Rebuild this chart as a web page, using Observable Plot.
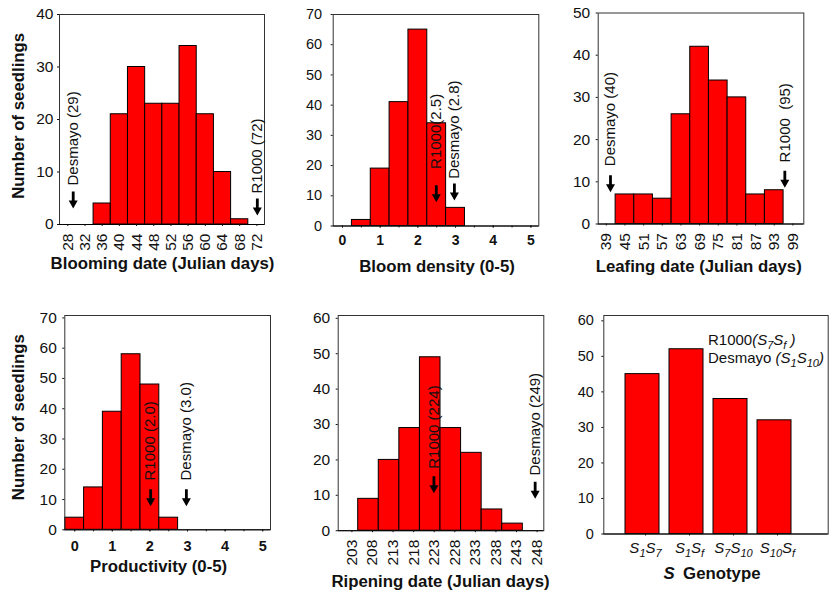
<!DOCTYPE html>
<html><head><meta charset="utf-8">
<script src="https://cdn.jsdelivr.net/npm/d3@7"></script>
<script src="https://cdn.jsdelivr.net/npm/@observablehq/plot@0.6"></script>
<style>
html,body{margin:0;padding:0;background:#fff;}
#chart{position:relative;width:832px;height:592px;overflow:hidden;background:#fff;}
#chart svg{position:absolute;left:0;top:0;}
</style></head><body><div id="chart"></div>
<script>
// ---------- data ----------
const bloomDays = [28,32,36,40,44,48,52,56,60,64,68,72];
const bloomCounts = [0,0,4,21,30,23,23,34,21,10,1,0];
const densityBins = [0.5,1,1.5,2,2.5,3];
const densityCounts = [2,19,41,65,34,6];
const scoreTicks = [0,1,2,3,4,5];
const halfTicks = [0,0.5,1,1.5,2,2.5,3,3.5,4,4.5,5];
const leafDays = [39,45,51,57,63,69,75,81,87,93,99];
const leafCounts = [0,7,7,6,26,42,34,30,7,8,0];
const prodBins = [0,0.5,1,1.5,2,2.5];
const prodCounts = [4,14,39,58,48,4];
const ripenDays = [203,208,213,218,223,228,233,238,243,248];
const ripenCounts = [0,9,20,29,49,29,22,6,2,0];
const genotypes = ["*S_1S_7*","*S_1S_f*","*S_7S_10*","*S_10S_f*"];
const genotypeCounts = [45,52,38,32];
const ticks40 = [0,10,20,30,40];
const ticks50 = [0,10,20,30,40,50];
const ticks60 = [0,10,20,30,40,50,60];
const ticks70 = [0,10,20,30,40,50,60,70];

// parent markers (label, value on x, text base level, arrow tip level)
const bloomNotes = [
  {label:"Desmayo (29)", x:29.26, yText:7.43, yTip:3.05},
  {label:"R1000 (72)", x:72.1, yText:5.9, yTip:1.71}];
const densityNotes = [
  {label:"R1000(2.5)", x:2.49, yText:18.9, yTip:7.9},
  {label:"Desmayo (2.8)", x:2.97, yText:15.6, yTip:8.4}];
const leafNotes = [
  {label:"Desmayo (40)", x:40.35, yText:13.7, yTip:7.5},
  {label:"R1000\u00a0 (95)", x:96.4, yText:14.6, yTip:8.6}];
const prodNotes = [
  {label:"R1000 (2.0)", x:2.02, yText:16.3, yTip:7.8},
  {label:"Desmayo (3.0)", x:2.97, yText:16.3, yTip:7.8}];
const ripenNotes = [
  {label:"R1000 (224)", x:223.9, yText:17.5, yTip:10.6},
  {label:"Desmayo (249)", x:248.5, yText:15.6, yTip:9.0}];
const genoNotes = [
  {label:"R1000*(S_7S_f )*", x:genotypes[1], y:54.6},
  {label:"Desmayo *(S_1S_10)*", x:genotypes[1], y:49.4}];

// ---------- layout ----------
const FONT = "'Liberation Sans', Arial, Helvetica, sans-serif";
const W = 832, H = 592;
const chart = document.getElementById("chart");

function base(f){
  return {width:W, height:H, marginLeft:f.L, marginRight:W-f.R, marginTop:f.T, marginBottom:H-f.B,
    style:{background:"transparent", fontFamily:FONT, fontSize:"15px", color:"#111"}};
}

const arrowSymbol = {draw(ctx){
  const s=1.4, w=4.5, h=8, L=17;
  ctx.moveTo(-s,-L); ctx.lineTo(s,-L); ctx.lineTo(s,-h); ctx.lineTo(w,-h);
  ctx.lineTo(0,0); ctx.lineTo(-w,-h); ctx.lineTo(-s,-h); ctx.closePath();
}};

function histPanel(c){
  const rows = c.centers.map((v,i)=>({x1:v-c.bw/2, x2:v+c.bw/2, count:c.counts[i]}));
  const marks = [
    Plot.rect(rows, {x1:"x1", x2:"x2", y1:0, y2:"count", fill:"#ff0000", stroke:"#000", strokeWidth:1}),
    Plot.frame({stroke:"#333"}),
    Plot.ruleY([0], {stroke:"#000"}),
    Plot.axisY({ticks:c.yTicks, tickSize:2, tickPadding:c.yPad, fontSize:c.yFont, label:null}),
    Plot.axisX({ticks:c.xTicks, tickSize:2, tickPadding:c.xPad, tickRotate:c.rotate||0, tickFormat:d=>String(d),
      fontSize:c.xFont, fontWeight:c.xBold?"bold":"normal", label:null, dx:c.xDx||0}),
    Plot.text(c.notes, {x:"x", y:"yText", text:"label", rotate:-90, textAnchor:"start", fontSize:15}),
    Plot.dot(c.notes, {x:"x", y:"yTip", symbol:arrowSymbol, fill:"#000", stroke:"none"}),
    Plot.text([c.title], {text:d=>d, frameAnchor:"bottom", textAnchor:"middle", dx:c.tdx, dy:c.tdy, fontWeight:"bold", fontSize:16.8})
  ];
  if (c.minor) marks.push(Plot.axisX({ticks:c.minor, tickSize:2, tickFormat:()=>"", label:null}));
  if (c.yTitle) marks.push(Plot.text([c.yTitle], {text:d=>d, frameAnchor:"left", textAnchor:"middle", rotate:-90, dx:c.ydx, dy:c.ydy, fontWeight:"bold", fontSize:16.8}));
  return Plot.plot({...base(c.f), x:{domain:c.xDomain}, y:{domain:c.yDomain}, marks});
}

function rich(el, markup){
  const sel = d3.select(el); sel.text(null);
  const segs = []; let it=false, buf="", i=0;
  const push=(t,sb)=>{ if(t) segs.push({t, it, sb}); };
  while(i<markup.length){
    const ch = markup[i];
    if(ch==="*"){ push(buf,false); buf=""; it=!it; i++; }
    else if(ch==="_"){ push(buf,false); buf=""; i++; let s="";
      if(/\d/.test(markup[i])){ while(i<markup.length && /\d/.test(markup[i])) s+=markup[i++]; }
      else s=markup[i++];
      push(s,true); }
    else { buf+=ch; i++; }
  }
  push(buf,false);
  let shifted=false;
  for(const s of segs){
    const t = sel.append("tspan").text(s.t);
    if(s.it) t.attr("font-style","italic");
    if(s.sb){ t.attr("font-size","11px"); if(!shifted){ t.attr("dy",4); shifted=true; } }
    else if(shifted){ t.attr("dy",-4); shifted=false; }
  }
}

const p1 = histPanel({f:{L:59,R:264,T:14,B:224}, xDomain:[26.07,73.77], yDomain:[0,40],
  centers:bloomDays, counts:bloomCounts, bw:4, yTicks:ticks40, yPad:4, yFont:15.5,
  xTicks:bloomDays, xPad:7, rotate:-90, xFont:15.5, notes:bloomNotes,
  title:"Blooming date (Julian days)", tdx:0.5, tdy:44,
  yTitle:"Number of seedlings", ydx:-40.5, ydy:-3.7});
const p2 = histPanel({f:{L:332.7,R:538.3,T:14,B:225.5}, xDomain:[-0.247,5.21], yDomain:[0,70],
  centers:densityBins, counts:densityCounts, bw:0.5, yTicks:ticks70, yPad:9, yFont:14.5,
  xTicks:scoreTicks, xPad:7, xFont:14, xBold:true, notes:densityNotes, minor:halfTicks,
  title:"Bloom density (0-5)", tdx:1, tdy:46});
const p3 = histPanel({f:{L:597.7,R:803.3,T:12.5,B:223.5}, xDomain:[36.4,102.5], yDomain:[0,50],
  centers:leafDays, counts:leafCounts, bw:6, yTicks:ticks50, yPad:6, yFont:15.5,
  xTicks:leafDays, xPad:7, rotate:-90, xFont:15.5, notes:leafNotes,
  title:"Leafing date (Julian days)", tdx:-2.3, tdy:48});
const p4 = histPanel({f:{L:64.3,R:270,T:315,B:529.3}, xDomain:[-0.263,5.207], yDomain:[0,70.8],
  centers:prodBins, counts:prodCounts, bw:0.5, yTicks:ticks70, yPad:6, yFont:15.5,
  xTicks:scoreTicks, xPad:9, xFont:14.5, xBold:true, notes:prodNotes, minor:halfTicks,
  title:"Productivity (0-5)", tdx:-9, tdy:42.4,
  yTitle:"Number of seedlings", ydx:-45.8, ydy:-5.5});
const p5 = histPanel({f:{L:337.7,R:543.3,T:315,B:530.2}, xDomain:[200.64,250.6], yDomain:[0,60.8],
  centers:ripenDays, counts:ripenCounts, bw:5, yTicks:ticks60, yPad:6, yFont:15.5,
  xTicks:ripenDays, xPad:7, rotate:-90, xFont:15.5, xDx:4, notes:ripenNotes,
  title:"Ripening date (Julian days)", tdx:-0.5, tdy:56.5});

const genoRows = genotypes.map((g,i)=>({g, count:genotypeCounts[i]}));
const p6 = Plot.plot({...base({L:603.3,R:827.7,T:315,B:533.5}),
  x:{type:"band", domain:genotypes, range:[619.7,795.7], paddingInner:0.227, paddingOuter:0.1135},
  y:{domain:[0,61.5]},
  marks:[
    Plot.barY(genoRows, {x:"g", y:"count", fill:"#ff0000", stroke:"#000", strokeWidth:1}),
    Plot.frame({stroke:"#333"}),
    Plot.ruleY([0], {stroke:"#000"}),
    Plot.axisY({ticks:ticks60, tickSize:2, tickPadding:8, fontSize:14.5, label:null}),
    Plot.axisX({tickSize:2, tickPadding:6, fontSize:15, label:null, dx:3}),
    Plot.text(genoNotes, {x:"x", y:"y", text:"label", textAnchor:"start", dx:21.5, fontSize:15}),
    Plot.text(["*S*\u2002Genotype"], {text:d=>d, frameAnchor:"bottom", textAnchor:"middle", dx:-4, dy:44.5, fontWeight:"bold", fontSize:16.8})
  ]});

for (const p of [p1,p2,p3,p4,p5,p6]) chart.appendChild(p);
p6.querySelectorAll("text").forEach(t => { const s = t.textContent; if (/[*_]/.test(s)) rich(t, s); });
</script></body></html>
